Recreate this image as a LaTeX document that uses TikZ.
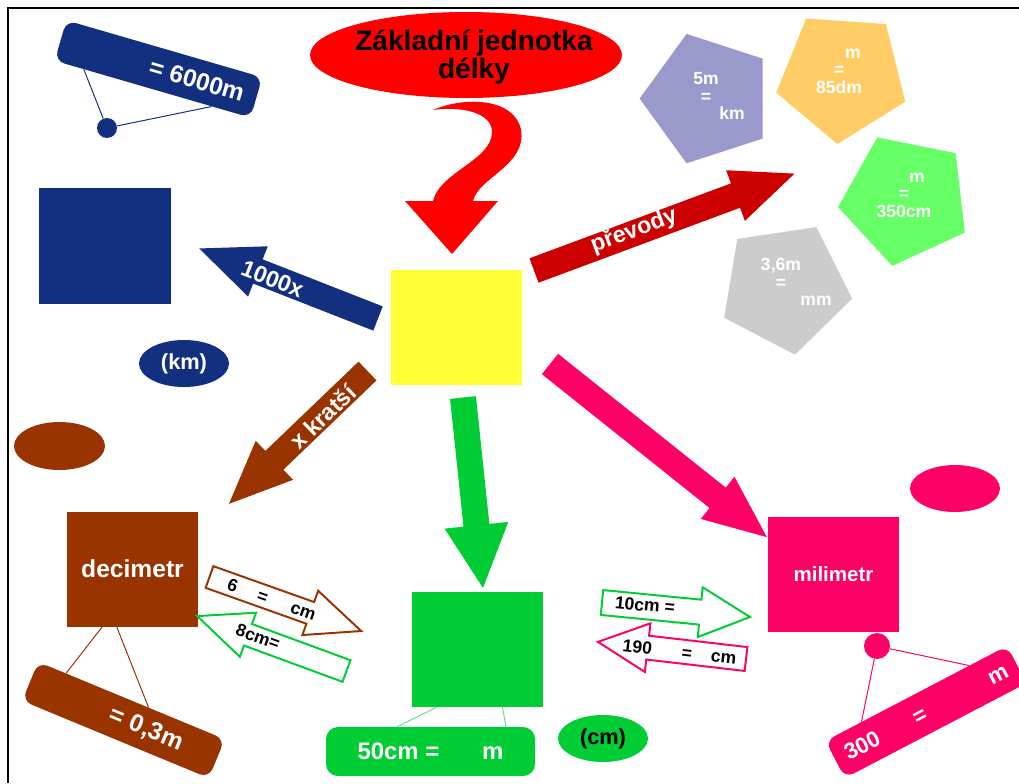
\documentclass[tikz,border=0pt]{standalone}
\usepackage{fontspec}
\setmainfont{Liberation Sans}
\usetikzlibrary{shapes.geometric,calc}
\definecolor{navy}{HTML}{12307F}
\definecolor{flame}{HTML}{FF0000}
\definecolor{wine}{HTML}{CC0000}
\definecolor{rust}{HTML}{993300}
\definecolor{lemon}{HTML}{FFFF33}
\definecolor{grass}{HTML}{00CC33}
\definecolor{rose}{HTML}{FF0066}
\definecolor{lilac}{HTML}{9999CC}
\definecolor{apricot}{HTML}{FFCC66}
\definecolor{mint}{HTML}{66FF66}
\definecolor{ash}{HTML}{CCCCCC}
\newcommand\ftsz[1]{\fontsize{#1}{#1}\selectfont\bfseries}

% block arrow from its tail: length/shaft/head width/head length
\tikzset{
  pics/barrow/.style args={#1/#2/#3/#4}{code={
    \path[pic actions] (0,-#2/2) -- (#1-#4,-#2/2) -- (#1-#4,-#3/2) -- (#1,0)
      -- (#1-#4,#3/2) -- (#1-#4,#2/2) -- (0,#2/2) -- cycle;
  }},
}

\begin{document}
\begin{tikzpicture}[
  x=0.25mm, y=-0.25mm,
  font=\bfseries,
  sq/.style={minimum width=32.75mm, minimum height=28.75mm, inner sep=0pt, text=white},
  oval/.style={ellipse, minimum width=22.5mm, minimum height=11.75mm, inner sep=0pt, font=\ftsz{15.5}},
  hollow/.style={fill=white, line width=1.4pt, line join=miter},
  pent/.style={regular polygon, regular polygon sides=5, minimum size=34mm, inner sep=0pt},
  tag/.style={rounded corners=2.5mm, minimum height=10.5mm, inner sep=0pt, text=white},
  btxt/.style={text=white, font=\ftsz{16.5}},
  htxt/.style={font=\ftsz{12.5}},
  ptxt/.style={text=white, align=center, font=\ftsz{12.5}},
  stem/.style={line width=0.7pt},
]
\fill[white] (0,0) rectangle (1019,783);
\useasboundingbox (0,0) rectangle (1019,783);
\draw[line width=2pt] (8,783) -- (8,8) -- (1019,8);

% basic unit
\node[ellipse, fill=flame, minimum width=78mm, minimum height=21.5mm] (basis) at (466,55) {};
\node[font=\ftsz{20}, align=center] (basistxt) at (474,57) {Základní jednotka\\délky};
\fill[flame] (433,110) .. controls (465,96) and (515,98) .. (521,130)
  .. controls (527,165) and (478,178) .. (473,201) -- (498,201) -- (452,254) -- (405,201) -- (433,201)
  .. controls (440,172) and (492,160) .. (492,132) .. controls (492,112) and (460,106) .. (433,110) -- cycle;
\node[sq, fill=lemon] (metr) at (456.5,327.5) {};

% kilometre
\node[sq, fill=navy, minimum width=33mm, minimum height=29mm] (km) at (105,246) {};
\node[oval, fill=navy, text=white] (kmlbl) at (184,363.5) {(km)};
\pic[fill=navy, rotate=158.6] (tokm) at (378,318.5) {barrow=192/26/54/63};
\node[btxt, rotate=-21.4] (tokmtxt) at (272.5,279) {1000x};
\node[tag, fill=navy, rotate=-16.2, minimum width=51mm, font=\ftsz{17.5}] (r6000) at (158.5,69) {\hspace*{20mm}= 6000m};
\node[circle, fill=navy, minimum size=5mm, inner sep=0pt] (navydot) at (107,128) {};
\draw[navy, stem] (navydot) -- ($(r6000.south west)!.15!(r6000.south east)$);
\draw[navy, stem] (navydot) -- ($(r6000.south west)!.80!(r6000.south east)$);

% decimetre
\node[sq, fill=rust, font=\ftsz{17.5}] (dm) at (132.5,569) {decimetr};
\node[oval, fill=rust, minimum width=22.75mm, minimum height=12mm] (dmlbl) at (59.5,446) {};
\pic[fill=rust, rotate=223.8] (todm) at (367.5,371) {barrow=192/26/54/63};
\node[btxt, rotate=43.8] (todmtxt) at (322.5,416.7) {x kratší};
\node[tag, fill=rust, rotate=-22.5, minimum width=50.5mm, font=\ftsz{17.5}] (r03) at (123.5,720) {\hspace*{12.3mm}= 0,3m};
\draw[rust, stem] ($(dm.south west)!.27!(dm.south east)$) -- ($(r03.north west)!.15!(r03.north east)$);
\draw[rust, stem] ($(dm.south west)!.38!(dm.south east)$) -- ($(r03.north west)!.59!(r03.north east)$);

% centimetre
\pic[fill=grass, rotate=-84] (tocm) at (463,397.5) {barrow=191.5/26/64/63};
\node[sq, fill=grass] (cm) at (477.5,649.5) {};
\node[oval, fill=grass] (cmlbl) at (603,738.5) {(cm)};
\node[tag, fill=grass, rounded corners=3mm, minimum width=52.25mm, minimum height=12.25mm, font=\ftsz{17}] (r50) at (430.5,751.5) {50cm =\hspace{10.7mm}m};
\draw[grass!60, stem] ($(cm.south west)!.19!(cm.south east)$) -- ($(r50.north west)!.34!(r50.north east)$);
\draw[grass!60, stem] ($(cm.south west)!.69!(cm.south east)$) -- ($(r50.north west)!.86!(r50.north east)$);

% millimetre
\pic[fill=rose, rotate=-38.6] (tomm) at (550,364) {barrow=277.5/26/54/63};
\node[sq, fill=rose, font=\ftsz{14.6}] (mm) at (833.5,574.5) {milimetr};
\node[oval, fill=rose] (mmlbl) at (955,488.5) {};
\node[tag, fill=rose, rotate=27.6, minimum width=51.25mm, font=\ftsz{16}] (r300) at (926,712) {300\hspace{9.9mm}=\hspace{17.9mm}m};
\node[circle, fill=rose, minimum size=6.5mm, inner sep=0pt] (rosedot) at (877,646) {};
\draw[rose, stem] (rosedot) -- ($(r300.north west)!.20!(r300.north east)$);
\draw[rose, stem] (rosedot) -- ($(r300.north west)!.79!(r300.north east)$);

% conversions
\pic[fill=wine, rotate=20.4] (toconv) at (534,270.5) {barrow=278/26/54/63};
\node[btxt, rotate=20.4] (toconvtxt) at (634,231) {převody};
\node[pent, fill=lilac, rotate=18] (p5m) at (707.6,98.6) {};
\node[ptxt] (p5mtxt) at (706,96) {5m\\=\\\hspace*{13mm}km};
\node[pent, fill=apricot, rotate=32] (p85) at (842.2,76.2) {};
\node[ptxt] (p85txt) at (839,71) {\hspace*{7mm}m\\=\\85dm};
\node[pent, fill=mint, rotate=24.6] (p350) at (905.6,199.2) {};
\node[ptxt] (p350txt) at (904,195) {\hspace*{6.5mm}m\\=\\350cm};
\node[pent, fill=ash, rotate=44.5] (p36) at (785,287.4) {};
\node[ptxt] (p36txt) at (781,282) {3,6m\\=\\\hspace*{17.5mm}mm};

% exercises
\pic[hollow, draw=rust, rotate=-19.6] (o6) at (209.5,577) {barrow=161/23/47/54};
\node[htxt, rotate=-19.6] (o6txt) at (271.7,599.8) {6\hspace{5.5mm}=\hspace{6.3mm}cm};
\pic[hollow, draw=grass, rotate=159.8] (o8) at (346.5,671) {barrow=159/23/47/54};
\node[htxt, rotate=-20] (o8txt) at (258,637) {8cm=};
\pic[hollow, draw=grass, rotate=-5.6] (o10) at (602,602.5) {barrow=148.7/25/50/50};
\node[htxt, rotate=-5.6] (o10txt) at (645,605) {10cm =};
\pic[hollow, draw=rose, rotate=173.4] (o190) at (746,659) {barrow=149/24/49/50};
\node[htxt, rotate=-6.6] (o190txt) at (679.6,652) {190\hspace{7.5mm}=\hspace{4.8mm}cm};
\end{tikzpicture}
\end{document}
